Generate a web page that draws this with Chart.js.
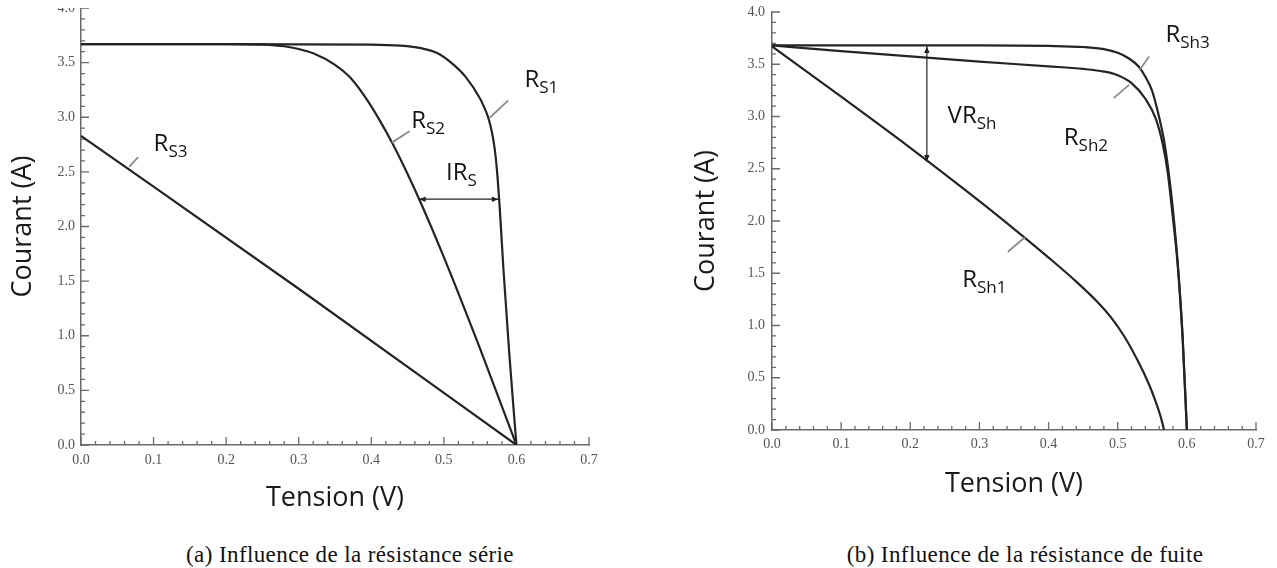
<!DOCTYPE html>
<html>
<head>
<meta charset="utf-8">
<script src="https://cdn.jsdelivr.net/npm/chart.js@4.4.1/dist/chart.umd.min.js"></script>
<style>
body { margin: 0; background: #fff; width: 1277px; height: 568px; overflow: hidden; position: relative; }
.wrap { position: absolute; overflow: hidden; }
#wrapA { left: 0; top: 8px; width: 640px; height: 512px; }
#wrapA canvas { position: absolute; left: 0; top: -8px; }
#wrapB { left: 640px; top: 0; width: 637px; height: 520px; }
.cap { position: absolute; top: 543px; font-family: "Liberation Serif", serif; font-size: 23px; line-height: 23px; letter-spacing: 0.4px; white-space: nowrap; transform: translateX(-50%); color: #111; }
.warm { position: absolute; left: -500px; top: 0; }
</style>
</head>
<body>
<div id="wrapA" class="wrap"><canvas id="chartA" width="640" height="520"></canvas></div>
<div id="wrapB" class="wrap"><canvas id="chartB" width="637" height="520"></canvas></div>
<div class="cap" style="left:350px">(a) Influence de la résistance série</div>
<div class="cap" style="left:1025px">(b) Influence de la résistance de fuite</div>
<div class="warm" style="font-family:'Open Sans'">Rs</div>
<script>
// (a) series resistance curves, tension (V) / courant (A)
const vRs1 = [0, 0.2, 0.4, 0.44, 0.47, 0.49, 0.51, 0.53, 0.55, 0.555, 0.56, 0.564, 0.568, 0.571, 0.574, 0.577, 0.582, 0.59, 0.6];
const iRs1 = [3.67, 3.67, 3.665, 3.655, 3.63, 3.59, 3.50, 3.37, 3.17, 3.10, 3.02, 2.93, 2.80, 2.66, 2.45, 2.17, 1.62, 0.85, 0];
const vRs2 = [0, 0.1, 0.2, 0.25, 0.28, 0.30, 0.32, 0.35, 0.37, 0.39, 0.41, 0.43, 0.45, 0.47, 0.5, 0.55, 0.6];
const iRs2 = [3.67, 3.67, 3.67, 3.665, 3.65, 3.625, 3.585, 3.48, 3.37, 3.20, 2.99, 2.75, 2.48, 2.19, 1.72, 0.88, 0];
const vRs3 = [0, 0.3, 0.6];
const iRs3 = [2.83, 1.43, 0];

// (b) shunt resistance curves
const vRsh3 = [0, 0.3, 0.4, 0.45, 0.48, 0.5, 0.515, 0.53, 0.54, 0.55, 0.56, 0.567, 0.573, 0.58, 0.587, 0.594, 0.6];
const iRsh3 = [3.68, 3.68, 3.675, 3.665, 3.645, 3.61, 3.56, 3.48, 3.38, 3.24, 2.99, 2.77, 2.50, 2.10, 1.58, 0.88, 0];
const vRsh2 = [0, 0.1, 0.2, 0.3, 0.4, 0.45, 0.48, 0.5, 0.52, 0.54, 0.555, 0.565, 0.572, 0.579, 0.587, 0.594, 0.6];
const iRsh2 = [3.68, 3.625, 3.575, 3.525, 3.48, 3.455, 3.43, 3.395, 3.32, 3.17, 2.98, 2.74, 2.48, 2.08, 1.56, 0.86, 0];
const vRsh1 = [0, 0.1, 0.2, 0.3, 0.36, 0.4, 0.44, 0.47, 0.49, 0.51, 0.53, 0.545, 0.555, 0.562, 0.567];
const iRsh1 = [3.67, 3.19, 2.70, 2.19, 1.87, 1.65, 1.42, 1.23, 1.08, 0.89, 0.65, 0.44, 0.27, 0.13, 0];

// axis ranges and tick steps
const xMax = 0.7;
const yMax = 4.0;
const xStep = 0.1;
const yStep = 0.5;

// annotations in data units: [text, subscript, V, A]
const labelsA = [['R', 'S1', 0.611, 3.28], ['R', 'S2', 0.455, 2.90], ['R', 'S3', 0.1, 2.69], ['IR', 'S', 0.503, 2.43]];
const leadersA = [[0.564, 3.00, 0.588, 3.15], [0.429, 2.77, 0.452, 2.87], [0.067, 2.55, 0.078, 2.63]];
const arrowsA = [[0.466, 2.25, 0.575, 2.25]];
const labelsB = [['R', 'Sh3', 0.569, 3.71], ['R', 'Sh2', 0.422, 2.73], ['R', 'Sh1', 0.275, 1.37], ['VR', 'Sh', 0.254, 2.94]];
const leadersB = [[0.532, 3.45, 0.545, 3.57], [0.495, 3.18, 0.516, 3.30], [0.342, 1.71, 0.365, 1.84]];
const arrowsB = [[0.224, 3.67, 0.224, 2.57]];

// make sure the page fonts are in use before the canvases draw
document.body.offsetWidth;

const toPoints = (xs, ys) => xs.map((v, i) => ({ x: v, y: ys[i] }));

const curve = (xs, ys) => ({
    data: toPoints(xs, ys),
    showLine: true,
    borderColor: '#242424',
    borderWidth: 2.2,
    pointRadius: 0,
    cubicInterpolationMode: 'monotone',
    borderJoinStyle: 'round'
});

// inward major/minor ticks like the original plot
const innerTicks = {
    id: 'innerTicks',
    beforeDatasetsDraw(chart) {
        const { ctx, chartArea: a, scales: { x, y } } = chart;
        ctx.save();
        ctx.strokeStyle = '#6a6a6a';
        ctx.lineWidth = 1.3;
        ctx.beginPath();
        for (let k = 0; k <= 35; k++) {
            const px = x.getPixelForValue(k * 0.02);
            const len = k % 5 === 0 ? 8 : 4;
            ctx.moveTo(px, a.bottom);
            ctx.lineTo(px, a.bottom - len);
        }
        for (let k = 0; k <= 40; k++) {
            const py = y.getPixelForValue(k * 0.1);
            const len = k % 5 === 0 ? 8 : 4;
            ctx.moveTo(a.left, py);
            ctx.lineTo(a.left + len, py);
        }
        ctx.stroke();
        ctx.restore();
    }
};

// labels, leader lines and double arrows
const notes = {
    id: 'notes',
    afterDatasetsDraw(chart, args, opts) {
        const { ctx, scales: { x, y } } = chart;
        ctx.save();
        ctx.lineCap = 'round';
        ctx.strokeStyle = '#8c8c8c';
        ctx.lineWidth = 1.8;
        opts.leaders.forEach(([x1, y1, x2, y2]) => {
            ctx.beginPath();
            ctx.moveTo(x.getPixelForValue(x1), y.getPixelForValue(y1));
            ctx.lineTo(x.getPixelForValue(x2), y.getPixelForValue(y2));
            ctx.stroke();
        });

        ctx.strokeStyle = '#222';
        ctx.fillStyle = '#222';
        ctx.lineWidth = 1.2;
        opts.arrows.forEach(([x1, y1, x2, y2]) => {
            const ax = x.getPixelForValue(x1), ay = y.getPixelForValue(y1);
            const bx = x.getPixelForValue(x2), by = y.getPixelForValue(y2);
            ctx.beginPath();
            ctx.moveTo(ax, ay);
            ctx.lineTo(bx, by);
            ctx.stroke();
            const ang = Math.atan2(by - ay, bx - ax);
            [[ax, ay, ang + Math.PI], [bx, by, ang]].forEach(([px, py, t]) => {
                ctx.beginPath();
                ctx.moveTo(px, py);
                ctx.lineTo(px - 7 * Math.cos(t - 0.4), py - 7 * Math.sin(t - 0.4));
                ctx.lineTo(px - 7 * Math.cos(t + 0.4), py - 7 * Math.sin(t + 0.4));
                ctx.closePath();
                ctx.fill();
            });
        });

        ctx.fillStyle = '#141414';
        ctx.textBaseline = 'alphabetic';
        ctx.textAlign = 'left';
        opts.labels.forEach(([main, sub, vx, vy]) => {
            const px = x.getPixelForValue(vx), py = y.getPixelForValue(vy);
            ctx.font = '24px "Open Sans"';
            ctx.fillText(main, px, py);
            const w = ctx.measureText(main).width;
            ctx.font = '17px "Open Sans"';
            ctx.fillText(sub, px + w, py + 6);
        });
        ctx.restore();
    }
};

const tickFont = { family: '"Liberation Serif", "Times New Roman", serif', size: 14 };
const titleFont = { family: '"Open Sans", sans-serif', size: 27 };

const getOptions = (o) => ({
    responsive: false,
    animation: false,
    layout: { padding: o.padding },
    plugins: {
        legend: { display: false },
        tooltip: { enabled: false },
        notes: { labels: o.labels, leaders: o.leaders, arrows: o.arrows }
    },
    scales: {
        x: {
            type: 'linear',
            min: 0,
            max: xMax,
            grid: { display: false, drawTicks: false },
            border: { display: true, color: '#6a6a6a', width: 1.5 },
            ticks: {
                stepSize: xStep,
                padding: o.xPad,
                color: '#555',
                maxRotation: 0,
                font: tickFont,
                callback: (v) => Number(v).toFixed(1)
            },
            title: {
                display: true,
                text: 'Tension (V)',
                color: '#1a1a1a',
                font: titleFont,
                padding: { top: 0, bottom: o.xTitlePad }
            },
            afterFit: (scale) => { scale.height = o.xHeight; }
        },
        y: {
            type: 'linear',
            min: 0,
            max: yMax,
            grid: { display: false, drawTicks: false },
            border: { display: true, color: '#6a6a6a', width: 1.5 },
            ticks: {
                stepSize: yStep,
                padding: o.yPad,
                color: '#555',
                font: tickFont,
                callback: (v) => Number(v).toFixed(1)
            },
            title: {
                display: true,
                text: 'Courant (A)',
                color: '#1a1a1a',
                font: titleFont,
                padding: { top: o.yTitlePad, bottom: 0 }
            },
            afterFit: (scale) => {
                scale.width = o.yWidth;
                scale.paddingTop = 0;
                scale.paddingBottom = 0;
            }
        }
    }
});

const chartA = new Chart(document.getElementById('chartA'), {
    type: 'scatter',
    data: { datasets: [curve(vRs1, iRs1), curve(vRs2, iRs2), curve(vRs3, iRs3)] },
    options: getOptions({
        padding: { left: 0, top: 8, right: 51, bottom: 0 },
        yWidth: 81, yPad: 6, yTitlePad: 7,
        xHeight: 75, xPad: 7, xTitlePad: 5,
        labels: labelsA, leaders: leadersA, arrows: arrowsA
    }),
    plugins: [innerTicks, notes]
});

const chartB = new Chart(document.getElementById('chartB'), {
    type: 'scatter',
    data: { datasets: [curve(vRsh3, iRsh3), curve(vRsh2, iRsh2), curve(vRsh1, iRsh1)] },
    options: getOptions({
        padding: { left: 40, top: 12, right: 21, bottom: 0 },
        yWidth: 92, yPad: 7, yTitlePad: 10,
        xHeight: 90, xPad: 6, xTitlePad: 19,
        labels: labelsB, leaders: leadersB, arrows: arrowsB
    }),
    plugins: [innerTicks, notes]
});
</script>
</body>
</html>
